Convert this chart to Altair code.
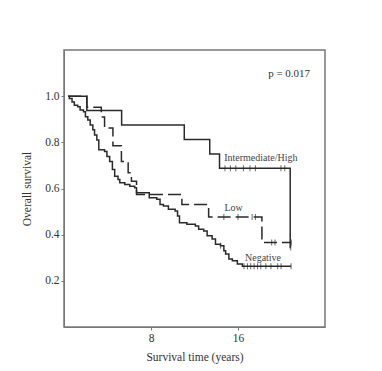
import altair as alt
import pandas as pd

# Kaplan-Meier step points (time in years, survival after the step)
high_t = [0.4, 2.1, 5.3, 11.06, 13.4, 14.3, 20.8, 20.85]
high_s = [1.0, 0.9375, 0.875, 0.8125, 0.75, 0.6875, 0.344, 0.344]
high_c = [14.8, 15.3, 15.8, 16.5, 17.1, 17.6, 19.95, 20.3, 20.85]

low_t = [0.4, 2.1, 3.43, 3.73, 4.5, 5.28, 5.9, 6.2, 6.67, 10.84, 13.3, 18.2, 20.9]
low_s = [1.0, 0.952, 0.91, 0.862, 0.785, 0.717, 0.668, 0.631, 0.574, 0.531, 0.477, 0.366, 0.366]
low_c = [14.7, 16.0, 17.3, 17.6, 19.1, 19.4, 20.9]

neg_t = [0.4, 0.49, 0.74, 0.95, 1.26, 1.48, 1.79, 1.97, 2.19, 2.41, 2.65, 2.81, 3.02, 3.2,
         3.73, 3.95, 4.2, 4.45, 4.66, 4.97, 5.13, 5.59, 6.05, 6.5, 6.67, 7.84, 8.53, 8.83,
         9.14, 9.6, 10.22, 10.44, 10.62, 11.3, 12.08, 12.38, 12.85, 13.16, 13.62, 13.93,
         14.39, 14.7, 14.86, 15.16, 15.48, 15.94, 16.4, 20.88]
neg_s = [1.0, 0.99, 0.975, 0.961, 0.954, 0.94, 0.932, 0.911, 0.897, 0.875, 0.854, 0.832,
         0.81, 0.768, 0.76, 0.739, 0.717, 0.682, 0.653, 0.639, 0.625, 0.617, 0.61, 0.603,
         0.582, 0.56, 0.553, 0.531, 0.524, 0.51, 0.502, 0.481, 0.452, 0.445, 0.438, 0.424,
         0.416, 0.395, 0.381, 0.359, 0.352, 0.33, 0.316, 0.295, 0.287, 0.273, 0.263, 0.263]
neg_c = [14.4, 16.55, 16.87, 17.17, 17.48, 17.8, 18.1, 18.56, 19.03, 19.65, 19.96, 20.88]

groups = ["Intermediate/High", "Low", "Negative"]
label_t = [18.1, 15.6, 18.3]
label_s = [0.732, 0.517, 0.298]
p_text = "p = 0.017"

x_ticks = [8, 16]
y_ticks = [0.2, 0.4, 0.6, 0.8, 1.0]

series = [(groups[0], high_t, high_s, high_c),
          (groups[1], low_t, low_s, low_c),
          (groups[2], neg_t, neg_s, neg_c)]

rows, cens = [], []
for name, ts, ss, cs in series:
    for i, (t, s) in enumerate(zip(ts, ss)):
        rows.append({"group": name, "t": t, "s": s, "order": i})
    for c in cs:
        val = ss[0]
        for t, s in zip(ts, ss):
            if t <= c:
                val = s
        cens.append({"group": name, "t": c, "s": val})

df = pd.DataFrame(rows)
dc = pd.DataFrame(cens)
dl = pd.DataFrame({"group": groups, "t": label_t, "s": label_s})
dp = pd.DataFrame({"txt": [p_text], "t": [20.7], "s": [1.095]})

FONT = "Liberation Serif"
xs = alt.Scale(domain=[0, 24], nice=False)
ys = alt.Scale(domain=[0, 1.2], nice=False)
X = alt.X("t:Q", scale=xs, axis=alt.Axis(values=x_ticks, title="Survival time (years)", grid=False, titlePadding=8))
Y = alt.Y("s:Q", scale=ys, axis=alt.Axis(values=y_ticks, format=".1f", title="Overall survival", grid=False, titlePadding=12))

lines = alt.Chart(df).mark_line(interpolate="step-after", color="#2a2a2a", strokeWidth=1.5).encode(
    x=X, y=Y, order="order:Q",
    detail="group:N",
    strokeDash=alt.StrokeDash("group:N", scale=alt.Scale(domain=groups, range=[[1, 0], [13, 5], [1, 0]]), legend=None),
)

ticks = alt.Chart(dc).mark_tick(orient="vertical", color="#2a2a2a", size=6, thickness=1).encode(
    x=alt.X("t:Q", scale=xs), y=alt.Y("s:Q", scale=ys)
)

labels = alt.Chart(dl).mark_text(font=FONT, fontSize=10, color="#444444").encode(
    x=alt.X("t:Q", scale=xs), y=alt.Y("s:Q", scale=ys), text="group:N"
)

ptxt = alt.Chart(dp).mark_text(font=FONT, fontSize=11, color="#333333").encode(
    x=alt.X("t:Q", scale=xs), y=alt.Y("s:Q", scale=ys), text="txt:N"
)

chart = alt.layer(lines, ticks, labels, ptxt).properties(
    width=261, height=277,
    autosize=alt.AutoSizeParams(type="none"),
    padding={"left": 56, "top": 42, "right": 10, "bottom": 40},
).configure_view(stroke="#777777", strokeWidth=1.5).configure_axis(
    labelFont=FONT, titleFont=FONT, labelFontSize=11.5, titleFontSize=11.5,
    titleFontWeight="normal", labelColor="#333333", titleColor="#333333",
    domainColor="#777777", tickColor="#777777", tickSize=3, labelPadding=2,
)

chart.save("out.html", embed_options={"renderer": "svg", "actions": False})
